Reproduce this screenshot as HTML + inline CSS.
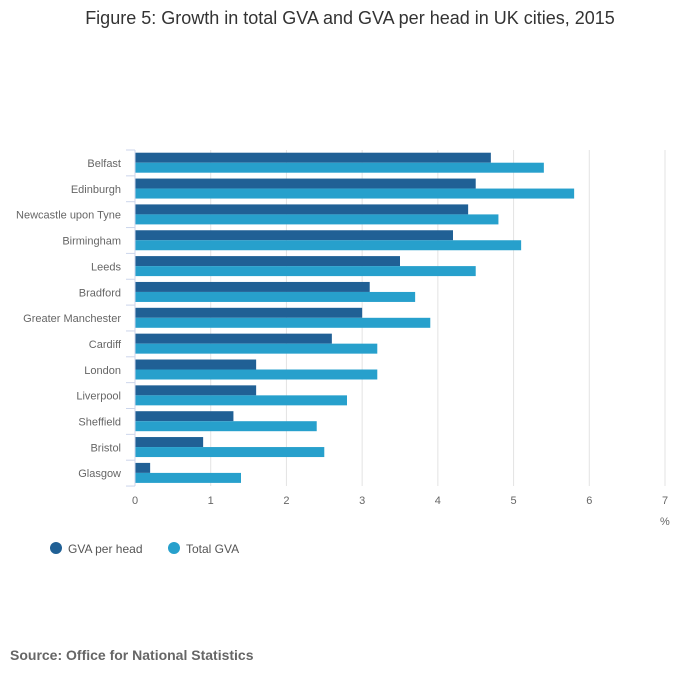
<!DOCTYPE html>
<html><head><meta charset="utf-8"><style>
body{margin:0;background:#fff;font-family:"Liberation Sans",sans-serif;}
</style></head><body>
<svg width="700" height="682" xmlns="http://www.w3.org/2000/svg">
<text x="350" y="24" text-anchor="middle" font-size="18" fill="#333">Figure 5: Growth in total GVA and GVA per head in UK cities, 2015</text>
<g id="grid"></g><g id="bars"></g><g id="axes"></g>
<text x="660" y="525" font-size="11" fill="#666">%</text>
<g>
<circle cx="56" cy="548" r="6" fill="#206095"/>
<text x="68" y="553" font-size="12" fill="#555">GVA per head</text>
<circle cx="174" cy="548" r="6" fill="#27a0cc"/>
<text x="186" y="553" font-size="12" fill="#555">Total GVA</text>
</g>
<text x="10" y="660" font-size="14" font-weight="bold" fill="#666">Source: Office for National Statistics</text>
</svg>
<script>
const categories=["Belfast","Edinburgh","Newcastle upon Tyne","Birmingham","Leeds","Bradford","Greater Manchester","Cardiff","London","Liverpool","Sheffield","Bristol","Glasgow"];
const gvaPerHead=[4.7,4.5,4.4,4.2,3.5,3.1,3.0,2.6,1.6,1.6,1.3,0.9,0.2];
const totalGva=[5.4,5.8,4.8,5.1,4.5,3.7,3.9,3.2,3.2,2.8,2.4,2.5,1.4];
const xTicks=[0,1,2,3,4,5,6,7];
const NS="http://www.w3.org/2000/svg";
const x0=135,x1=665,xmax=7,plotTop=150,band=25.85;
const xs=v=>x0+(x1-x0)*v/xmax;
const ys=i=>plotTop+i*band;
function mk(tag,attrs,parent){const e=document.createElementNS(NS,tag);for(const k in attrs)e.setAttribute(k,attrs[k]);parent.appendChild(e);return e;}
const grid=document.getElementById('grid'),bars=document.getElementById('bars'),axes=document.getElementById('axes');
const plotBottom=ys(categories.length);
xTicks.forEach(t=>{
 if(t>0){const l=mk('line',{x1:xs(t),x2:xs(t),y1:plotTop,y2:plotBottom,stroke:'#e3e3e3'},grid);
 
 }
 const tx=mk('text',{x:xs(t),y:504,'text-anchor':'middle','font-size':'11',fill:'#666'},axes);
 tx.textContent=t;
 
 
});
categories.forEach((c,i)=>{
 const y=ys(i);
 const b1=mk('rect',{x:x0,y:y+2.7,width:xs(gvaPerHead[i])-x0,height:10,fill:'#206095'},bars);
 
 
 const b2=mk('rect',{x:x0,y:y+12.7,width:xs(totalGva[i])-x0,height:10,fill:'#27a0cc'},bars);
 
 
 const lb=mk('text',{x:121,y:y+17,'text-anchor':'end','font-size':'11',fill:'#666'},axes);
 lb.textContent=c;
 
 
});
for(let i=0;i<=categories.length;i++){
 const tk=mk('line',{x1:126,x2:x0,y1:ys(i),y2:ys(i),stroke:'#ccd6eb'},axes);
 
 
}
const ax=mk('line',{x1:x0,x2:x0,y1:plotTop,y2:plotBottom,stroke:'#ccd6eb'},axes);


</script>
</body></html>
